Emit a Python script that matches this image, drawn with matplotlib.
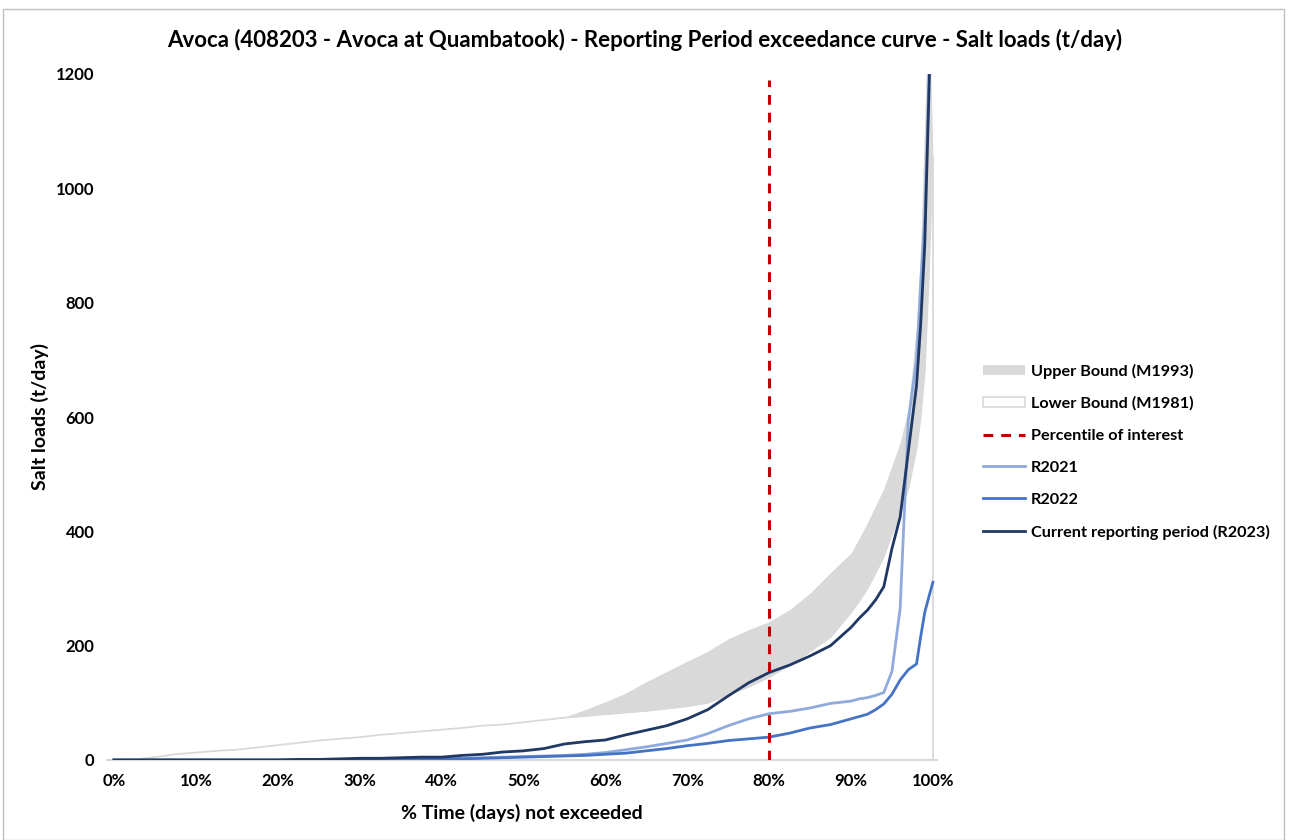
import matplotlib
matplotlib.use("Agg")
import matplotlib.pyplot as plt
from matplotlib.patches import Patch, Rectangle
from matplotlib.lines import Line2D

plt.rcParams['font.family'] = ['Lato', 'DejaVu Sans']

# % time not exceeded
pct = [0, 2.5, 5, 7.5, 10, 12.5, 15, 17.5, 20, 22.5, 25, 27.5, 30, 32.5, 35, 37.5,
       40, 42.5, 45, 47.5, 50, 52.5, 55, 57.5, 60, 62.5, 65, 67.5, 70, 72.5, 75, 77.5,
       80, 82.5, 85, 87.5, 90, 91, 92, 93, 94, 95, 96, 97, 98, 98.5, 99, 99.5, 100]

lower_m1981 = [0, 1, 5, 10, 13, 16, 18, 22, 26, 30, 34, 37, 40, 44, 47, 50,
               53, 56, 60, 62, 66, 70, 74, 77, 80, 83, 86, 90, 94, 100, 114, 128,
               145, 166, 190, 215, 258, 278, 300, 327, 356, 395, 432, 475, 545, 600, 680, 850, 1055]

upper_m1993 = [0, 1, 5, 10, 13, 16, 18, 22, 26, 30, 34, 37, 40, 44, 47, 50,
               53, 56, 60, 62, 66, 70, 75, 88, 102, 117, 137, 155, 173, 190, 212, 228,
               242, 263, 292, 328, 362, 388, 415, 445, 475, 515, 555, 615, 760, 900, 1120, 1350, 1060]

r2021 = [0, 0, 0, 0, 0, 0, 0, 0, 0, 0, 0, 1, 1, 1, 2, 2,
         3, 3, 4, 5, 6, 7, 8, 10, 13, 18, 23, 29, 35, 46, 60, 72,
         81, 85, 91, 99, 103, 107, 109, 113, 118, 155, 265, 595, 700, 830, 950, 1180, 1450]

r2022 = [0, 0, 0, 0, 0, 0, 0, 0, 0, 0, 0, 0, 1, 1, 1, 1,
         2, 2, 3, 4, 5, 6, 7, 8, 10, 12, 16, 20, 25, 29, 34, 37,
         40, 47, 56, 62, 72, 76, 80, 88, 98, 115, 140, 158, 168, 215, 258, 285, 311]

r2023 = [0, 0, 0, 0, 0, 0, 0, 0, 0, 1, 1, 2, 3, 3, 4, 5,
         5, 8, 10, 14, 16, 20, 28, 32, 35, 44, 52, 60, 72, 88, 112, 135,
         153, 166, 182, 200, 232, 248, 262, 280, 303, 370, 425, 540, 655, 760, 900, 1160, 1450]

percentile_of_interest = 80
y_ticks = [0, 200, 400, 600, 800, 1000, 1200]
x_ticks = [0, 10, 20, 30, 40, 50, 60, 70, 80, 90, 100]

W, H = 1290, 840
fig = plt.figure(figsize=(W / 100, H / 100), dpi=100)
fig.patch.set_facecolor('white')
fig.patches.append(Rectangle((3 / W, 0), 1281 / W, (H - 9) / H, transform=fig.transFigure,
                             fill=False, edgecolor='#BFBFBF', linewidth=1.0))

ax = fig.add_axes([107 / W, 80 / H, 830 / W, 686 / H])
ax.set_xlim(-0.85, 100.5)
ax.set_ylim(0, 1200)

grey_band = '#D9D9D9'
ax.fill_between(pct, lower_m1981, upper_m1993, color=grey_band, linewidth=0, zorder=1)
ax.plot(pct, lower_m1981, color=grey_band, lw=1.3, zorder=2)
ax.plot([100, 100], [0, lower_m1981[-1]], color=grey_band, lw=1.3, zorder=2)

ax.plot([percentile_of_interest, percentile_of_interest], [0, 1190], color='#C00000',
        lw=2.2, dashes=(3.2, 2.6), zorder=5)
ax.plot(pct, r2021, color='#8FAADC', lw=2, zorder=3)
ax.plot(pct, r2022, color='#4472C4', lw=2, zorder=3)
ax.plot(pct, r2023, color='#203864', lw=2, zorder=4)

for s in ['left', 'right', 'top']:
    ax.spines[s].set_visible(False)
ax.spines['bottom'].set_color('#D9D9D9')
ax.spines['bottom'].set_linewidth(1.5)

ax.set_yticks(y_ticks)
ax.set_yticklabels([str(v) for v in y_ticks], fontsize=12, fontweight='bold')
ax.set_xticks(x_ticks)
ax.set_xticklabels([f'{v}%' for v in x_ticks], fontsize=12, fontweight='bold')
ax.tick_params(axis='y', length=0, pad=9)
ax.tick_params(axis='x', length=0, pad=9)

ax.set_xlabel('% Time (days) not exceeded', fontsize=14, fontweight='bold', labelpad=11)
ax.set_ylabel('Salt loads (t/day)', fontsize=14, fontweight='bold', labelpad=5)

fig.text(645 / W, 1 - 40 / H,
         'Avoca (408203 - Avoca at Quambatook) - Reporting Period exceedance curve - Salt loads (t/day)',
         ha='center', va='center', fontsize=16, fontweight='bold')

handles = [
    Patch(facecolor=grey_band, edgecolor='none'),
    Patch(facecolor='white', edgecolor=grey_band, linewidth=1.2),
    Line2D([], [], color='#C00000', lw=2.2, dashes=(3.2, 2.6)),
    Line2D([], [], color='#8FAADC', lw=2),
    Line2D([], [], color='#4472C4', lw=2),
    Line2D([], [], color='#203864', lw=2),
]
labels = ['Upper Bound (M1993)', 'Lower Bound (M1981)', 'Percentile of interest',
          'R2021', 'R2022', 'Current reporting period (R2023)']
leg = fig.legend(handles, labels, loc='upper left', bbox_to_anchor=(968 / W, 1 - 349 / H),
                 frameon=False, prop={'size': 11.7, 'weight': 'bold'},
                 handlelength=2.6, handleheight=0.55, handletextpad=0.35, labelspacing=1.1)

fig.savefig('out.png', dpi=100)
